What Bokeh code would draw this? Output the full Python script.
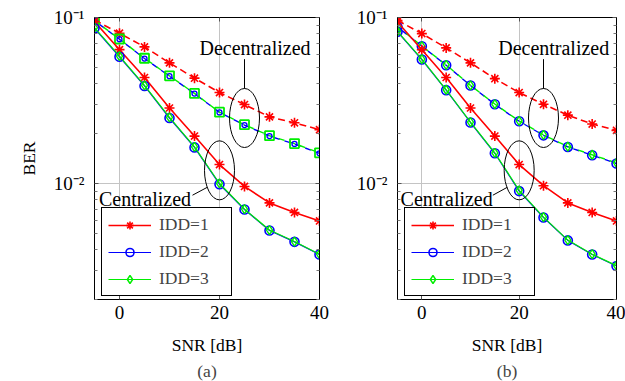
from bokeh.plotting import figure
from bokeh.layouts import row
from bokeh.models import (Range1d, FixedTicker, LinearAxis, LogAxis, Legend, LegendItem, Title,
                          CustomJSTickFormatter)
from bokeh.core.properties import value
from bokeh.embed import file_html
from bokeh.resources import INLINE

# ---------------- data ----------------
snr = [-5, 0, 5, 10, 15, 20, 25, 30, 35, 40]

# (a)
a_cen_idd1 = [0.0945, 0.064, 0.0435, 0.0285, 0.0193, 0.0130, 0.0096, 0.00764, 0.00669, 0.00595]
a_cen_idd2 = [0.086, 0.058, 0.0387, 0.0248, 0.0165, 0.0099, 0.00697, 0.00521, 0.00445, 0.00373]
a_cen_idd3 = [0.087, 0.0585, 0.0390, 0.0250, 0.0166, 0.0100, 0.00700, 0.00524, 0.00447, 0.00375]
a_dec_idd1 = [0.0965, 0.0804, 0.0665, 0.0533, 0.0431, 0.0353, 0.0299, 0.0252, 0.0232, 0.0211]
a_dec_idd2 = [0.0955, 0.0740, 0.0566, 0.0443, 0.0348, 0.0268, 0.0225, 0.0193, 0.0173, 0.0152]
a_dec_idd3 = [0.0958, 0.0742, 0.0568, 0.0445, 0.0349, 0.0269, 0.0226, 0.0194, 0.0174, 0.0153]

# (b)
b_cen_idd1 = [0.0940, 0.064, 0.0435, 0.0285, 0.0193, 0.0130, 0.0097, 0.00764, 0.00669, 0.00595]
b_cen_idd2 = [0.082, 0.0558, 0.0365, 0.0233, 0.0152, 0.0090, 0.00624, 0.00454, 0.00373, 0.00318]
b_cen_idd3 = [0.0825, 0.0561, 0.0367, 0.0234, 0.0153, 0.0091, 0.00627, 0.00456, 0.00375, 0.00320]
b_dec_idd1 = [0.0960, 0.0800, 0.0656, 0.0533, 0.0428, 0.0353, 0.0300, 0.0258, 0.0228, 0.0209]
b_dec_idd2 = [0.0878, 0.0671, 0.0516, 0.0389, 0.0300, 0.0237, 0.0195, 0.0166, 0.0148, 0.0132]
b_dec_idd3 = [0.0880, 0.0673, 0.0518, 0.0390, 0.0301, 0.0238, 0.0196, 0.0167, 0.0149, 0.0133]

x_ticks = [0, 20, 40]
y_ticks = [0.01, 0.1]
y_tick_labels = ["10\u207b\u00b2", "10\u207b\u00b9"]
y_minor = [0.002, 0.003, 0.004, 0.005, 0.006, 0.007, 0.008, 0.009,
           0.02, 0.03, 0.04, 0.05, 0.06, 0.07, 0.08, 0.09]
legend_labels = ["IDD=1", "IDD=2", "IDD=3"]

FONT = "Liberation Serif"
RED, BLUE, GREEN = "#ff0000", "#0000ff", "#00ee00"


def style_axis(ax, labels=True):
    ax.axis_line_color = "black"
    ax.major_tick_in = 4
    ax.major_tick_out = 0
    ax.minor_tick_in = 3
    ax.minor_tick_out = 0
    ax.major_tick_line_color = "#555555"
    ax.minor_tick_line_color = "#777777"
    ax.major_label_text_font = FONT
    ax.major_label_text_color = "black"
    ax.axis_label_text_font = FONT
    ax.axis_label_text_color = "black"
    ax.axis_label_text_font_style = "normal"
    ax.axis_label_text_font_size = "17.5px"
    ax.major_label_text_font_size = "19px"
    if not labels:
        ax.formatter = CustomJSTickFormatter(code="return '';")
        ax.major_label_standoff = 0


def make_fig(width, border_left, border_right, panel, cen, dec, dec_green_marker, ylabel):
    p = figure(width=width, height=381, x_range=Range1d(-5, 40), y_range=Range1d(0.002, 0.1),
               y_axis_type="log", output_backend="svg", toolbar_location=None,
               min_border_left=border_left, min_border_right=border_right,
               min_border_top=17, min_border_bottom=82)
    p.outline_line_color = "black"
    p.outline_line_alpha = 1
    p.outline_line_width = 1
    p.background_fill_color = "white"
    p.border_fill_color = "white"

    p.xaxis.ticker = FixedTicker(ticks=x_ticks)
    p.yaxis.ticker = FixedTicker(ticks=y_ticks, minor_ticks=y_minor)
    p.yaxis.major_label_overrides = dict(zip(y_ticks, y_tick_labels))
    for ax in p.xaxis + p.yaxis:
        style_axis(ax)
    p.xaxis.major_label_standoff = 6
    p.xaxis.axis_label = "SNR [dB]"
    p.xaxis.axis_label_standoff = 13
    p.yaxis.major_label_standoff = 10
    if ylabel:
        p.yaxis.axis_label = "BER"
        p.yaxis.axis_label_standoff = 12

    ra = LogAxis(ticker=FixedTicker(ticks=y_ticks, minor_ticks=y_minor))
    style_axis(ra, labels=False)
    p.add_layout(ra, "right")
    ta = LinearAxis(ticker=FixedTicker(ticks=x_ticks))
    style_axis(ta, labels=False)
    p.add_layout(ta, "above")

    p.xgrid.grid_line_color = "#c4c4c4"
    p.ygrid.grid_line_color = "#c4c4c4"
    p.xgrid.grid_line_width = 1
    p.ygrid.grid_line_width = 1

    c1, c2, c3 = cen
    d1, d2, d3 = dec

    # decentralized (dashed)
    p.line(snr, d1, line_color=RED, line_width=1.6, line_dash="7 4")
    p.scatter(snr, d1, marker="asterisk", size=10, line_color=RED, line_width=1.6)
    p.line(snr, d2, line_color=BLUE, line_width=1.4, line_dash="6 5", line_dash_offset=5)
    p.line(snr, d3, line_color=GREEN, line_width=1.4, line_dash="6 5")
    if dec_green_marker == "square":
        p.scatter(snr, d3, marker="square", size=9, line_color=GREEN, line_width=1.8, fill_alpha=0)
        p.scatter(snr, d2, marker="circle", size=5, line_color=BLUE, line_width=1.3, fill_alpha=0)
    else:
        p.scatter(snr, d2, marker="circle", size=9, line_color=BLUE, line_width=1.6, fill_alpha=0)
        p.scatter(snr, d3, marker="diamond", size=9, line_color=GREEN, line_width=1.4, fill_alpha=0)

    # centralized (solid)
    l1 = p.line(snr, c1, line_color=RED, line_width=1.6)
    m1 = p.scatter(snr, c1, marker="asterisk", size=10, line_color=RED, line_width=1.6)
    l2 = p.line(snr, c2, line_color=BLUE, line_width=1.2)
    m2 = p.scatter(snr, c2, marker="circle", size=9, line_color=BLUE, line_width=1.6, fill_alpha=0)
    l3 = p.line(snr, c3, line_color=GREEN, line_width=1.2)
    m3 = p.scatter(snr, c3, marker="diamond", size=9, line_color=GREEN, line_width=1.4, fill_alpha=0)

    # annotations
    p.ellipse(x=[25], y=[0.0248], width=30, height=59, width_units="screen",
              height_units="screen", fill_alpha=0, line_color="black", line_width=1)
    p.ellipse(x=[20], y=[0.0120], width=30, height=59, width_units="screen",
              height_units="screen", fill_alpha=0, line_color="black", line_width=1)
    p.segment(x0=[25], y0=[0.0561], x1=[25], y1=[0.0373], line_color="black", line_width=1)
    p.segment(x0=[14.6], y0=[0.0085], x1=[17.6], y1=[0.0095], line_color="black", line_width=1)
    p.text(x=[27.1], y=[0.0655], text=["Decentralized"], text_font=value(FONT),
           text_font_size="20px", text_align="center", text_baseline="alphabetic", text_color="black")
    p.text(x=[5.1], y=[0.00807], text=["Centralized"], text_font=value(FONT),
           text_font_size="20px", text_align="center", text_baseline="alphabetic", text_color="black")

    legend = Legend(items=[LegendItem(label=legend_labels[0], renderers=[l1, m1]),
                           LegendItem(label=legend_labels[1], renderers=[l2, m2]),
                           LegendItem(label=legend_labels[2], renderers=[l3, m3])],
                    location=(7, 3), border_line_color="black", border_line_width=1,
                    border_line_alpha=1, background_fill_alpha=1,
                    label_text_font=FONT, label_text_font_size="17.5px",
                    glyph_width=43, glyph_height=20, label_height=20, label_width=66,
                    spacing=6, padding=6, margin=0, label_standoff=8)
    p.add_layout(legend)

    t = Title(text=panel, align="center", text_font=FONT, text_font_size="17.5px",
              text_font_style="normal", standoff=2)
    p.add_layout(t, "below")
    return p


p1 = make_fig(330, 94, 11, "(a)", (a_cen_idd1, a_cen_idd2, a_cen_idd3),
              (a_dec_idd1, a_dec_idd2, a_dec_idd3), "square", True)
p2 = make_fig(295, 67, 9, "(b)", (b_cen_idd1, b_cen_idd2, b_cen_idd3),
              (b_dec_idd1, b_dec_idd2, b_dec_idd3), "diamond", False)

layout = row(p1, p2)
open("out.html", "w").write(file_html(layout, INLINE))
